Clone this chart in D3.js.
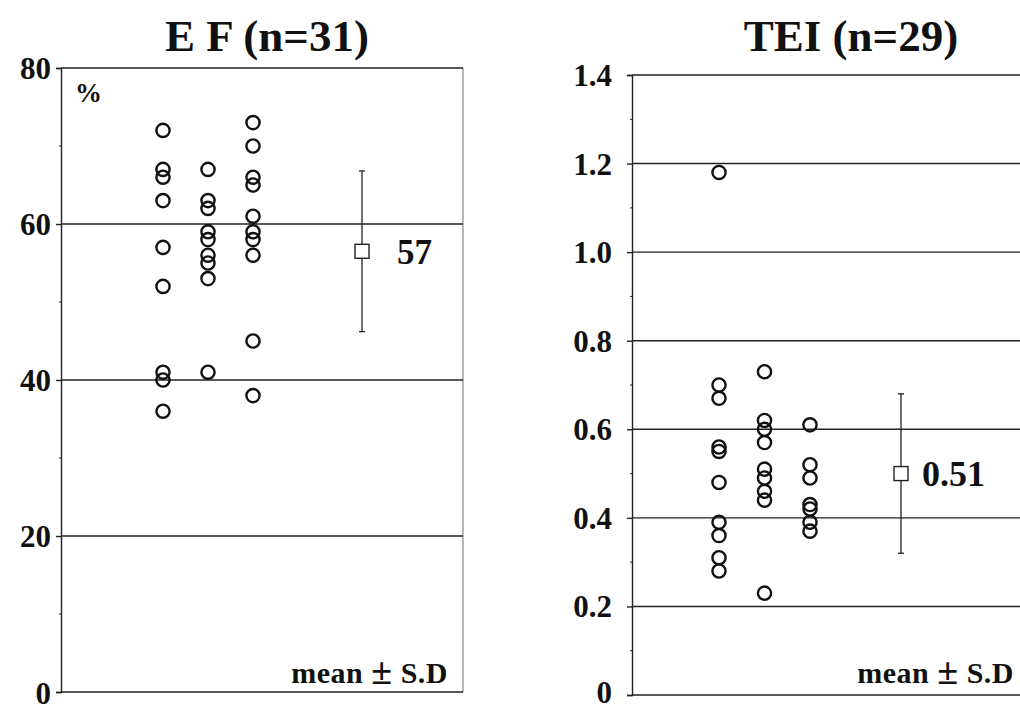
<!DOCTYPE html>
<html>
<head>
<meta charset="utf-8">
<script src="https://cdn.jsdelivr.net/npm/d3@7"></script>
<style>
  html, body { margin: 0; padding: 0; background: #fff; }
  svg { display: block; }
  text { font-family: "Liberation Serif", "DejaVu Serif", serif; font-weight: bold; fill: #111; }
</style>
</head>
<body>
<svg id="chart" width="1020" height="710"></svg>
<script>
// ---- data ----
const efColumns = ["A", "B", "C"];
const efCol1 = [72, 67, 66, 63, 57, 52, 41, 40, 36];
const efCol2 = [67, 63, 62, 59, 58, 56, 55, 53, 41];
const efCol3 = [73, 70, 66, 65, 61, 59, 58, 56, 45, 38];
const efMean = 56.5, efSD = 10.3, efMeanLabel = "57";
const efTicks = [0, 20, 40, 60, 80];
const efTickLabels = ["0", "20", "40", "60", "80"];
const efTitle = "E F (n=31)";

const teiColumns = ["A", "B", "C"];
const teiCol1 = [1.18, 0.70, 0.67, 0.56, 0.55, 0.48, 0.39, 0.36, 0.31, 0.28];
const teiCol2 = [0.73, 0.62, 0.60, 0.57, 0.51, 0.49, 0.46, 0.44, 0.23];
const teiCol3 = [0.61, 0.52, 0.49, 0.43, 0.42, 0.39, 0.37];
const teiMean = 0.50, teiSD = 0.18, teiMeanLabel = "0.51";
const teiTicks = [0, 0.2, 0.4, 0.6, 0.8, 1.0, 1.2, 1.4];
const teiTickLabels = ["0", "0.2", "0.4", "0.6", "0.8", "1.0", "1.2", "1.4"];
const teiTitle = "TEI (n=29)";

const svg = d3.select("#chart");

function drawPanel(cfg) {
  const g = svg.append("g");
  const y = d3.scaleLinear().domain(cfg.domain).range([cfg.bottom, cfg.top]);
  const x = d3.scalePoint().domain(cfg.columns).range(cfg.colRange);

  // box right border (light)
  g.append("line")
    .attr("x1", cfg.right).attr("x2", cfg.right)
    .attr("y1", y(cfg.domain[1])).attr("y2", y(cfg.domain[0]))
    .attr("stroke", "#888").attr("stroke-width", 1.2);

  // gridlines incl. top & bottom
  g.selectAll(".grid").data(cfg.ticks).join("line")
    .attr("x1", cfg.left).attr("x2", cfg.right)
    .attr("y1", d => y(d)).attr("y2", d => y(d))
    .attr("stroke", "#222").attr("stroke-width", 1.4);

  // axis
  const axis = d3.axisLeft(y).tickValues(cfg.ticks)
    .tickFormat((d, i) => cfg.tickLabels[i])
    .tickSize(5).tickPadding(cfg.tickPad);
  const ag = g.append("g").attr("transform", `translate(${cfg.left},0)`).call(axis);
  ag.select(".domain").attr("stroke", "#222").attr("stroke-width", 1.4);
  ag.selectAll(".tick line").attr("stroke", "#222").attr("stroke-width", 1.4);
  ag.selectAll(".tick text")
    .attr("font-size", 31).attr("fill", "#111")
    .attr("dy", (d, i) => i === 0 ? cfg.zeroDy : "0.34em");

  // minor ticks
  const minors = d3.pairs(cfg.ticks).map(p => (p[0] + p[1]) / 2);
  g.selectAll(".minor").data(minors).join("line")
    .attr("x1", cfg.left - 2).attr("x2", cfg.left)
    .attr("y1", d => y(d)).attr("y2", d => y(d))
    .attr("stroke", "#222").attr("stroke-width", 1);

  // points
  cfg.series.forEach((vals, i) => {
    g.selectAll(null).data(vals).join("circle")
      .attr("cx", x(cfg.columns[i]))
      .attr("cy", d => y(d))
      .attr("r", 6.6)
      .attr("fill", "none")
      .attr("stroke", "#111")
      .attr("stroke-width", 2.4);
  });

  // mean +- SD
  const mx = cfg.meanX;
  g.append("line").attr("x1", mx).attr("x2", mx)
    .attr("y1", y(cfg.mean + cfg.sd)).attr("y2", y(cfg.mean - cfg.sd))
    .attr("stroke", "#222").attr("stroke-width", 1.3);
  [cfg.mean + cfg.sd, cfg.mean - cfg.sd].forEach(v => {
    g.append("line").attr("x1", mx - 3).attr("x2", mx + 3)
      .attr("y1", y(v)).attr("y2", y(v))
      .attr("stroke", "#222").attr("stroke-width", 1.3);
  });
  g.append("rect")
    .attr("x", mx - 7).attr("y", y(cfg.mean) - 7)
    .attr("width", 14).attr("height", 14)
    .attr("fill", "#fff").attr("stroke", "#222").attr("stroke-width", 1.4);
  g.append("text")
    .attr("x", mx + cfg.labelDx).attr("y", y(cfg.mean))
    .attr("dy", "0.35em")
    .attr("font-size", cfg.meanFont)
    .text(cfg.meanLabel);

  // title
  g.append("text")
    .attr("x", cfg.titleX).attr("y", 51)
    .attr("text-anchor", "middle")
    .attr("font-size", 45)
    .text(cfg.title);

  // mean ± S.D
  const note = g.append("text")
    .attr("x", cfg.noteX).attr("y", 683)
    .attr("text-anchor", "end")
    .attr("font-size", 30)
    .attr("letter-spacing", 0.5);
  note.append("tspan").text("mean ");
  note.append("tspan").attr("font-size", 38).attr("dy", 1).text("\u00B1");
  note.append("tspan").attr("dy", -1).text(" S.D");

  if (cfg.unit) {
    g.append("text")
      .attr("x", cfg.left + 14).attr("y", 102)
      .attr("font-size", 27)
      .text(cfg.unit);
  }
}

drawPanel({
  domain: [0, 80], top: 68, bottom: 692, left: 61, right: 463,
  columns: efColumns, colRange: [163, 253],
  series: [efCol1, efCol2, efCol3],
  ticks: efTicks, tickLabels: efTickLabels, tickPad: 5, zeroDy: "0.38em",
  mean: efMean, sd: efSD, meanLabel: efMeanLabel, meanX: 362, labelDx: 35, meanFont: 35,
  title: efTitle, titleX: 267, noteX: 448, unit: "%"
});

drawPanel({
  domain: [0, 1.4], top: 75, bottom: 695, left: 632, right: 1022,
  columns: teiColumns, colRange: [719, 810],
  series: [teiCol1, teiCol2, teiCol3],
  ticks: teiTicks, tickLabels: teiTickLabels, tickPad: 15, zeroDy: "0.24em",
  mean: teiMean, sd: teiSD, meanLabel: teiMeanLabel, meanX: 901, labelDx: 21, meanFont: 36,
  title: teiTitle, titleX: 851, noteX: 1014, unit: null
});
</script>
</body>
</html>
